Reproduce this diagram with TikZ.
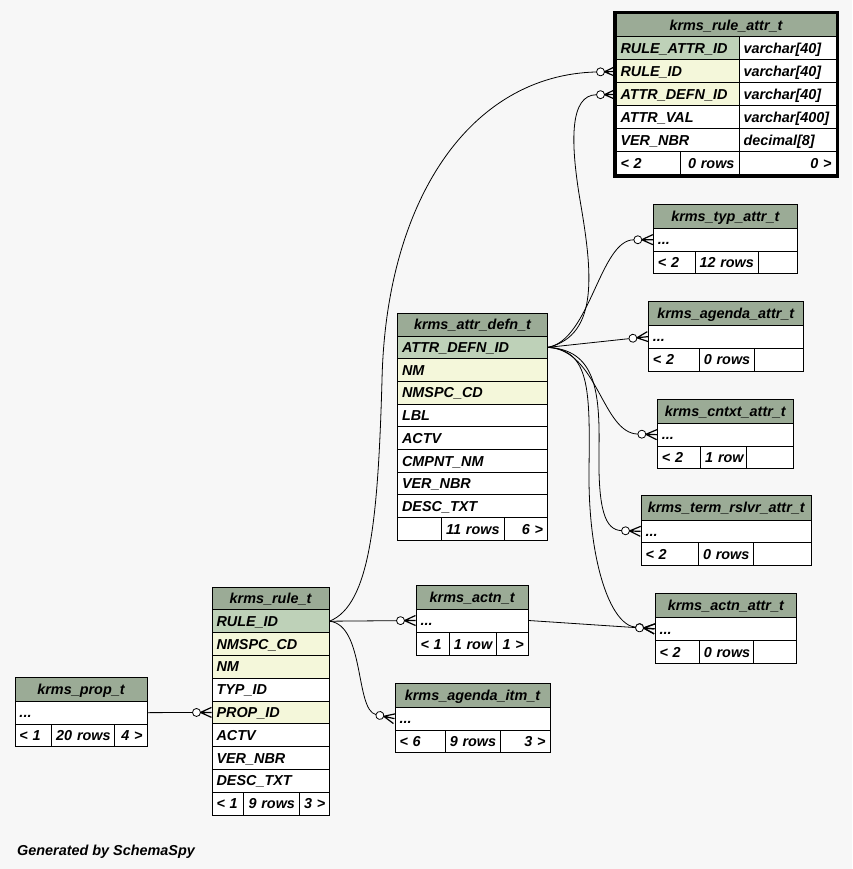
\documentclass[tikz,border=0pt]{standalone}
\usepackage{fontspec}
\setmainfont{Liberation Sans}
\usetikzlibrary{arrows.meta}
\definecolor{hdr}{HTML}{9BAB96}
\definecolor{pk}{HTML}{BED1B8}
\definecolor{fk}{HTML}{F4F7DA}
\definecolor{bg}{HTML}{F7F7F7}

\pgfdeclarearrow{
  name = crowodot,
  setup code = {
    \pgfarrowssettipend{0pt}
    \pgfarrowssetlineend{-19pt}
    \pgfarrowssetbackend{-19pt}
    \pgfarrowsupperhullpoint{0pt}{5pt}
    \pgfarrowsupperhullpoint{-19pt}{4pt}
  },
  drawing code = {
    \pgfsetdash{}{0pt}
    \pgfsetroundjoin
    \pgfsetlinewidth{1.2pt}
    \pgfpathmoveto{\pgfqpoint{0pt}{5pt}}
    \pgfpathlineto{\pgfqpoint{-11pt}{0pt}}
    \pgfpathlineto{\pgfqpoint{0pt}{-5pt}}
    \pgfpathmoveto{\pgfqpoint{0pt}{0pt}}
    \pgfpathlineto{\pgfqpoint{-11pt}{0pt}}
    \pgfusepathqstroke
    \pgfsetlinewidth{0.8pt}
    \pgfpathcircle{\pgfqpoint{-15pt}{0pt}}{4pt}
    \pgfsetfillcolor{white}
    \pgfusepathqfillstroke
  }
}

% #1 name #2 x1 #3 y1 #4 x2 #5 y2 #6 fill #7 align #8 text
\newcommand\tc[8]{%
  \pgfmathsetmacro\tcw{#4-#2}%
  \pgfmathsetmacro\tch{#5-#3}%
  \pgfmathsetmacro\tctw{#4-#2-9}%
  \node[cell, fill=#6, align=#7, minimum width=\tcw pt, minimum height=\tch pt, text width=\tctw pt] (#1) at ({(#2+#4)/2},{(#3+#5)/2}) {\mbox{#8}};%
}

\begin{document}
\begin{tikzpicture}[x=1pt,y=-1pt,
  cell/.style={draw=black, line width=1pt, inner xsep=4.5pt, inner ysep=0pt,
    text height=12.3pt, text depth=2pt,
    font=\fontsize{14.4}{17}\selectfont\bfseries\itshape},
  conn/.style={draw=black, line width=0.8pt, -crowodot},
  gentext/.style={font=\fontsize{14.4}{17}\selectfont\bfseries\itshape, inner sep=0pt}]
\fill[bg] (0,0) rectangle (852,869);
\useasboundingbox (0,0) rectangle (852,869);

% krms_rule_attr_t
\tc{ra-h}{616}{14}{836}{37}{hdr}{center}{krms\_rule\_attr\_t}
\tc{ra-1}{616}{37}{739}{60}{pk}{left}{RULE\_ATTR\_ID}
\tc{ra-1t}{739}{37}{836}{60}{white}{left}{varchar[40]}
\tc{ra-2}{616}{60}{739}{83}{fk}{left}{RULE\_ID}
\tc{ra-2t}{739}{60}{836}{83}{white}{left}{varchar[40]}
\tc{ra-3}{616}{83}{739}{106}{fk}{left}{ATTR\_DEFN\_ID}
\tc{ra-3t}{739}{83}{836}{106}{white}{left}{varchar[40]}
\tc{ra-4}{616}{106}{739}{129}{white}{left}{ATTR\_VAL}
\tc{ra-4t}{739}{106}{836}{129}{white}{left}{varchar[400]}
\tc{ra-5}{616}{129}{739}{152}{white}{left}{VER\_NBR}
\tc{ra-5t}{739}{129}{836}{152}{white}{left}{decimal[8]}
\tc{ra-f1}{616}{152}{680}{175}{white}{left}{< 2}
\tc{ra-f2}{680}{152}{739}{175}{white}{right}{0 rows}
\tc{ra-f3}{739}{152}{836}{175}{white}{right}{0 >}
\draw[line width=3pt] (614.5,12.5) rectangle (837.5,176.5);

% krms_attr_defn_t
\tc{ad-h}{397.5}{313}{547.5}{336}{hdr}{center}{krms\_attr\_defn\_t}
\tc{ad-1}{397.5}{336}{547.5}{358.7}{pk}{left}{ATTR\_DEFN\_ID}
\tc{ad-2}{397.5}{358.7}{547.5}{381.4}{fk}{left}{NM}
\tc{ad-3}{397.5}{381.4}{547.5}{404.1}{fk}{left}{NMSPC\_CD}
\tc{ad-4}{397.5}{404.1}{547.5}{426.8}{white}{left}{LBL}
\tc{ad-5}{397.5}{426.8}{547.5}{449.5}{white}{left}{ACTV}
\tc{ad-6}{397.5}{449.5}{547.5}{472.2}{white}{left}{CMPNT\_NM}
\tc{ad-7}{397.5}{472.2}{547.5}{494.9}{white}{left}{VER\_NBR}
\tc{ad-8}{397.5}{494.9}{547.5}{517.6}{white}{left}{DESC\_TXT}
\tc{ad-f1}{397.5}{517.6}{441.7}{540.3}{white}{left}{}
\tc{ad-f2}{441.7}{517.6}{504}{540.3}{white}{right}{11 rows}
\tc{ad-f3}{504}{517.6}{547.5}{540.3}{white}{right}{6 >}

% krms_rule_t
\tc{rt-h}{212}{587}{329}{609.8}{hdr}{center}{krms\_rule\_t}
\tc{rt-1}{212}{609.8}{329}{632.6}{pk}{left}{RULE\_ID}
\tc{rt-2}{212}{632.6}{329}{655.4}{fk}{left}{NMSPC\_CD}
\tc{rt-3}{212}{655.4}{329}{678.2}{fk}{left}{NM}
\tc{rt-4}{212}{678.2}{329}{701}{white}{left}{TYP\_ID}
\tc{rt-5}{212}{701}{329}{723.8}{fk}{left}{PROP\_ID}
\tc{rt-6}{212}{723.8}{329}{746.6}{white}{left}{ACTV}
\tc{rt-7}{212}{746.6}{329}{769.4}{white}{left}{VER\_NBR}
\tc{rt-8}{212}{769.4}{329}{792.2}{white}{left}{DESC\_TXT}
\tc{rt-f1}{212}{792.2}{243.5}{815}{white}{left}{< 1}
\tc{rt-f2}{243.5}{792.2}{299.5}{815}{white}{right}{9 rows}
\tc{rt-f3}{299.5}{792.2}{329}{815}{white}{right}{3 >}

% krms_prop_t
\tc{pr-h}{15}{677.7}{147}{701}{hdr}{center}{krms\_prop\_t}
\tc{pr-1}{15}{701}{147}{724.3}{white}{left}{...}
\tc{pr-f1}{15}{724.3}{51.7}{746.7}{white}{left}{< 1}
\tc{pr-f2}{51.7}{724.3}{114}{746.7}{white}{right}{20 rows}
\tc{pr-f3}{114}{724.3}{147}{746.7}{white}{right}{4 >}

% krms_actn_t
\tc{an-h}{416}{585.7}{528.3}{609}{hdr}{center}{krms\_actn\_t}
\tc{an-1}{416}{609}{528.3}{632}{white}{left}{...}
\tc{an-f1}{416}{632}{449}{655.7}{white}{left}{< 1}
\tc{an-f2}{449}{632}{496.7}{655.7}{white}{right}{1 row}
\tc{an-f3}{496.7}{632}{528.3}{655.7}{white}{right}{1 >}

% krms_agenda_itm_t
\tc{ai-h}{395}{683.3}{550}{707.3}{hdr}{center}{krms\_agenda\_itm\_t}
\tc{ai-1}{395}{707.3}{550}{730}{white}{left}{...}
\tc{ai-f1}{395}{730}{445}{752.7}{white}{left}{< 6}
\tc{ai-f2}{445}{730}{500.7}{752.7}{white}{right}{9 rows}
\tc{ai-f3}{500.7}{730}{550}{752.7}{white}{right}{3 >}

% krms_typ_attr_t
\tc{ty-h}{653.3}{204}{797.3}{228.3}{hdr}{center}{krms\_typ\_attr\_t}
\tc{ty-1}{653.3}{228.3}{797.3}{251}{white}{left}{...}
\tc{ty-f1}{653.3}{251}{695}{273.3}{white}{left}{< 2}
\tc{ty-f2}{695}{251}{758.3}{273.3}{white}{right}{12 rows}
\tc{ty-f3}{758.3}{251}{797.3}{273.3}{white}{right}{}

% krms_agenda_attr_t
\tc{ag-h}{648.3}{301.7}{803.3}{325}{hdr}{center}{krms\_agenda\_attr\_t}
\tc{ag-1}{648.3}{325}{803.3}{348.3}{white}{left}{...}
\tc{ag-f1}{648.3}{348.3}{699.3}{371}{white}{left}{< 2}
\tc{ag-f2}{699.3}{348.3}{754.3}{371}{white}{right}{0 rows}
\tc{ag-f3}{754.3}{348.3}{803.3}{371}{white}{right}{}

% krms_cntxt_attr_t
\tc{cx-h}{657.3}{399.3}{793.3}{423.3}{hdr}{center}{krms\_cntxt\_attr\_t}
\tc{cx-1}{657.3}{423.3}{793.3}{446}{white}{left}{...}
\tc{cx-f1}{657.3}{446}{700.7}{468.3}{white}{left}{< 2}
\tc{cx-f2}{700.7}{446}{746}{468.3}{white}{right}{1 row}
\tc{cx-f3}{746}{446}{793.3}{468.3}{white}{right}{}

% krms_term_rslvr_attr_t
\tc{tr-h}{641}{495.5}{811.5}{520}{hdr}{center}{krms\_term\_rslvr\_attr\_t}
\tc{tr-1}{641}{520}{811.5}{542.7}{white}{left}{...}
\tc{tr-f1}{641}{542.7}{698.5}{565.3}{white}{left}{< 2}
\tc{tr-f2}{698.5}{542.7}{753.5}{565.3}{white}{right}{0 rows}
\tc{tr-f3}{753.5}{542.7}{811.5}{565.3}{white}{right}{}

% krms_actn_attr_t
\tc{aa-h}{655}{593.3}{796.7}{617}{hdr}{center}{krms\_actn\_attr\_t}
\tc{aa-1}{655}{617}{796.7}{640.7}{white}{left}{...}
\tc{aa-f1}{655}{640.7}{699.3}{663.3}{white}{left}{< 2}
\tc{aa-f2}{699.3}{640.7}{753.3}{663.3}{white}{right}{0 rows}
\tc{aa-f3}{753.3}{640.7}{796.7}{663.3}{white}{right}{}

% connectors
\draw[conn] (rt-1.east) .. controls (370,605) and (378,520) .. (382,380) .. controls (386,200) and (470,75) .. (ra-2.west);
\draw[conn] (ad-1.east) .. controls (600,335) and (592,270) .. (580,200) .. controls (570,140) and (570,95) .. (ra-3.west);
\draw[conn] (ad-1.east) .. controls (590,340) and (600,240) .. (ty-1.west);
\draw[conn] (ad-1.east) -- (ag-1.west);
\draw[conn] (ad-1.east) .. controls (598,350) and (602,433) .. (cx-1.west);
\draw[conn] (ad-1.east) .. controls (595,350) and (600,390) .. (599,450) .. controls (598,510) and (605,530) .. (tr-1.west);
\draw[conn] (ad-1.east) .. controls (590,350) and (590,390) .. (589,470) .. controls (588,560) and (610,625) .. (aa-1.west);
\draw[conn] (an-1.east) -- (aa-1.west);
\draw[conn] (rt-1.east) -- (an-1.west);
\draw[conn] (rt-1.east) .. controls (365,625) and (355,710) .. (ai-1.west);
\draw[conn] (pr-1.east) -- (rt-5.west);

\node[gentext, anchor=base west] (gen) at (17,855) {Generated by SchemaSpy};
\end{tikzpicture}
\end{document}
